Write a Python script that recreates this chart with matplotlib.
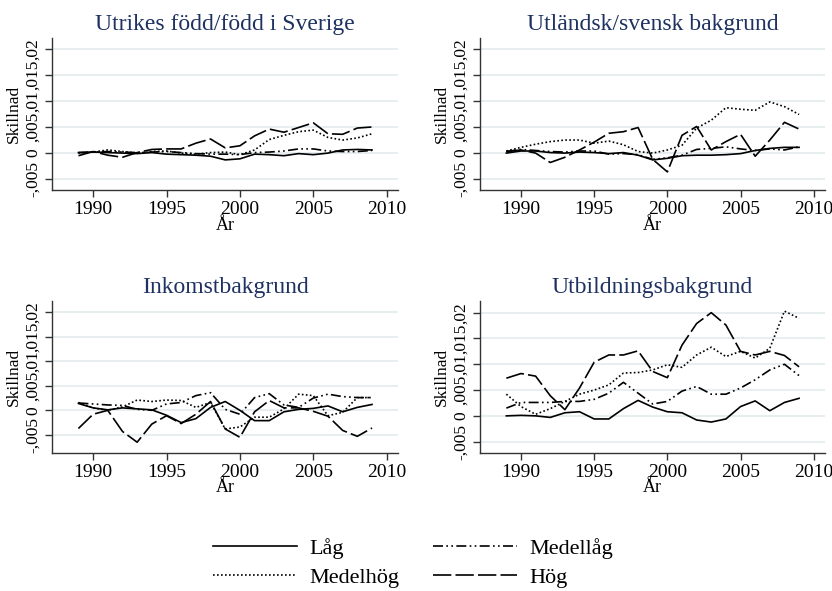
import numpy as np
import matplotlib
matplotlib.use("Agg")
import matplotlib.pyplot as plt
from matplotlib.lines import Line2D

plt.rcParams['font.family'] = ['Liberation Serif', 'DejaVu Serif']

years = list(range(1989, 2010))

titles = ["Utrikes född/född i Sverige", "Utländsk/svensk bakgrund",
          "Inkomstbakgrund", "Utbildningsbakgrund"]
series_names = ["Låg", "Medellåg", "Medelhög", "Hög"]

# Utrikes född/född i Sverige
p1_lag = [0.0001, 0.0002, 0.0001, 0.0000, -0.0001, 0.0001, -0.0002, -0.0003, -0.0004, -0.0006, -0.0013,
          -0.0011, -0.0002, -0.0003, -0.0005, -0.0001, -0.0003, 0.0000, 0.0006, 0.0007, 0.0006]
p1_medellag = [0.0001, 0.0002, 0.0003, 0.0002, 0.0001, 0.0002, 0.0003, 0.0001, -0.0001, -0.0002, -0.0002,
               -0.0003, 0.0001, 0.0002, 0.0004, 0.0008, 0.0008, 0.0004, 0.0003, 0.0003, 0.0005]
p1_medelhog = [0.0000, 0.0002, 0.0006, 0.0003, 0.0000, 0.0003, 0.0004, 0.0000, -0.0002, 0.0001, 0.0002,
               -0.0003, 0.0006, 0.0026, 0.0034, 0.0041, 0.0044, 0.0030, 0.0025, 0.0029, 0.0037]
p1_hog = [-0.0005, 0.0003, -0.0004, -0.0008, 0.0001, 0.0007, 0.0008, 0.0008, 0.0019, 0.0027, 0.0010,
          0.0014, 0.0033, 0.0046, 0.0040, 0.0049, 0.0058, 0.0037, 0.0036, 0.0048, 0.0050]

# Utländsk/svensk bakgrund
p2_lag = [0.0000, 0.0004, 0.0004, 0.0001, 0.0000, 0.0002, 0.0001, -0.0001, 0.0001, -0.0004, -0.0013,
          -0.0010, -0.0005, -0.0004, -0.0004, -0.0003, -0.0001, 0.0005, 0.0009, 0.0011, 0.0011]
p2_medellag = [0.0003, 0.0007, 0.0005, 0.0003, 0.0002, 0.0004, 0.0004, -0.0002, -0.0001, -0.0003, -0.0012,
               -0.0009, -0.0004, 0.0007, 0.0009, 0.0012, 0.0008, 0.0005, 0.0008, 0.0006, 0.0012]
p2_medelhog = [0.0004, 0.0011, 0.0017, 0.0022, 0.0025, 0.0025, 0.0019, 0.0023, 0.0016, 0.0003, 0.0000,
               0.0006, 0.0015, 0.0048, 0.0063, 0.0087, 0.0084, 0.0082, 0.0098, 0.0089, 0.0074]
p2_hog = [0.0003, 0.0006, 0.0000, -0.0018, -0.0008, 0.0006, 0.0021, 0.0038, 0.0041, 0.0049, -0.0012,
          -0.0036, 0.0034, 0.0051, 0.0006, 0.0022, 0.0036, -0.0006, 0.0025, 0.0059, 0.0046]

# Inkomstbakgrund
p3_lag = [0.0014, 0.0005, 0.0001, 0.0005, 0.0003, 0.0001, -0.0010, -0.0025, -0.0017, 0.0006, 0.0018,
          0.0000, -0.0021, -0.0021, -0.0003, 0.0002, 0.0004, 0.0009, -0.0003, 0.0006, 0.0012]
p3_medellag = [0.0015, 0.0013, 0.0011, 0.0010, 0.0002, 0.0000, 0.0013, 0.0016, 0.0030, 0.0036, 0.0002,
               -0.0008, 0.0026, 0.0034, 0.0011, 0.0006, 0.0025, 0.0033, 0.0028, 0.0026, 0.0026]
p3_medelhog = [0.0016, 0.0005, 0.0000, 0.0007, 0.0021, 0.0018, 0.0021, 0.0020, 0.0006, 0.0016, -0.0038,
               -0.0034, -0.0014, -0.0014, 0.0003, 0.0033, 0.0030, -0.0011, -0.0004, 0.0026, 0.0026]
p3_hog = [-0.0037, -0.0008, 0.0000, -0.0043, -0.0065, -0.0028, -0.0011, -0.0027, -0.0008, 0.0018, -0.0038,
          -0.0055, -0.0003, 0.0020, 0.0005, 0.0005, -0.0002, -0.0012, -0.0041, -0.0053, -0.0036]

# Utbildningsbakgrund
p4_lag = [0.0000, 0.0001, 0.0000, -0.0003, 0.0006, 0.0008, -0.0006, -0.0006, 0.0014, 0.0030, 0.0017,
          0.0008, 0.0006, -0.0008, -0.0012, -0.0006, 0.0018, 0.0029, 0.0010, 0.0026, 0.0034]
p4_medellag = [0.0015, 0.0026, 0.0026, 0.0026, 0.0028, 0.0028, 0.0032, 0.0044, 0.0065, 0.0044, 0.0023,
               0.0028, 0.0048, 0.0057, 0.0042, 0.0042, 0.0054, 0.0070, 0.0089, 0.0100, 0.0078]
p4_medelhog = [0.0042, 0.0018, 0.0003, 0.0014, 0.0028, 0.0042, 0.0050, 0.0060, 0.0083, 0.0084, 0.0089,
               0.0099, 0.0094, 0.0118, 0.0133, 0.0115, 0.0125, 0.0112, 0.0131, 0.0203, 0.0189]
p4_hog = [0.0073, 0.0082, 0.0077, 0.0039, 0.0012, 0.0054, 0.0104, 0.0118, 0.0118, 0.0126, 0.0086,
          0.0074, 0.0137, 0.0179, 0.0200, 0.0176, 0.0125, 0.0118, 0.0125, 0.0117, 0.0095]

panels = [
    [p1_lag, p1_medellag, p1_medelhog, p1_hog],
    [p2_lag, p2_medellag, p2_medelhog, p2_hog],
    [p3_lag, p3_medellag, p3_medelhog, p3_hog],
    [p4_lag, p4_medellag, p4_medelhog, p4_hog],
]

yticks = [-0.005, 0, 0.005, 0.01, 0.015, 0.02]
ytick_labels = ["-,005", "0", ",005", ",01", ",015", ",02"]
xticks = [1990, 1995, 2000, 2005, 2010]

# stilar: heldragen, streck-punkt-punkt, prickad, långa streck
styles = ['-', (0, (6, 2, 1, 2, 1, 2)), (0, (1, 1.4)), (0, (11, 2.5))]

W, H = 832, 591
fig = plt.figure(figsize=(W / 100, H / 100), dpi=100)

# axlarnas placering i pixlar: (vänster, topp, höger, botten)
boxes = [(52, 38, 398, 190), (480, 38, 825, 190),
         (52, 301, 398, 452.5), (480, 301, 825, 452.5)]
ylims = [(-0.00707, 0.02205), (-0.00707, 0.02205),
         (-0.0086, 0.0223), (-0.0071, 0.02226)]

title_color = '#1e3160'
grid_color = '#e6eef0'
axis_color = '#333333'

for i, (data, box) in enumerate(zip(panels, boxes)):
    l, t, r, b = box
    ax = fig.add_axes([l / W, 1 - b / H, (r - l) / W, (b - t) / H])
    for vals, ls in zip(data, styles):
        ax.plot(years, vals, color='black', lw=1.2, linestyle=ls)
    ax.set_xlim(1987.2, 2010.77)
    ax.set_ylim(*ylims[i])
    ax.set_yticks(yticks)
    ax.set_yticklabels(ytick_labels, rotation=90, va='center')
    ax.set_xticks(xticks)
    ax.yaxis.grid(True, color=grid_color, lw=1.4)
    ax.set_axisbelow(True)
    for s in ['top', 'right']:
        ax.spines[s].set_visible(False)
    for s in ['left', 'bottom']:
        ax.spines[s].set_color(axis_color)
        ax.spines[s].set_linewidth(1.0)
    ax.tick_params(axis='both', direction='out', length=5, width=1.0,
                   color=axis_color, pad=3)
    ax.tick_params(axis='x', labelsize=14)
    ax.tick_params(axis='y', labelsize=12.5)
    ax.set_title(titles[i], fontsize=17, color=title_color, pad=6)
    ax.set_ylabel("Skillnad", fontsize=12.5, labelpad=2)
    ax.set_xlabel("År", fontsize=13, labelpad=-1)

handles = [Line2D([], [], color='black', lw=1.2, linestyle=ls) for ls in styles]
# ordning så att raderna blir Låg/Medellåg och Medelhög/Hög
order = [0, 2, 1, 3]
fig.legend([handles[k] for k in order], [series_names[k] for k in order],
           ncol=2, loc='center', bbox_to_anchor=(413 / W, 1 - 563 / H),
           frameon=False, fontsize=16, handlelength=3.8, handletextpad=0.55,
           columnspacing=1.5, labelspacing=0.4, borderpad=0.2)

fig.savefig("out.png", dpi=100)
